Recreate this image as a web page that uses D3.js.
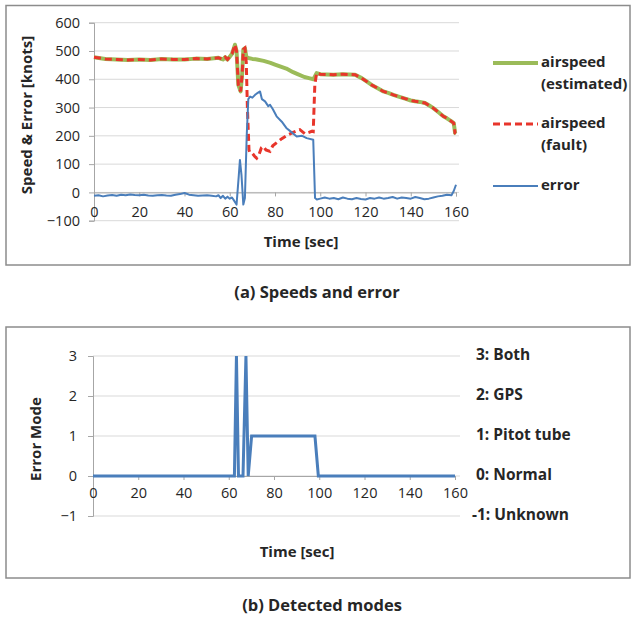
<!DOCTYPE html>
<html><head><meta charset="utf-8">
<script src="https://cdn.jsdelivr.net/npm/d3@7"></script>
<style>body{margin:0;background:#fff}svg{display:block}text{font-family:"Open Sans",sans-serif}</style>
</head><body><svg id="c" width="636" height="621"></svg>
<script>
// ---------- data ----------
const errT = [0,2,4,6,8,10,12,14,16,18,20,22,24,26,28,30,32,34,36,38,40,42,44,46,48,50,52,54,55,56,57,58,59,60,61,62,63,64,64.5,65.2,66,66.7,67.5,68.2,69,70,71.2,72,73.4,74.2,75.6,77,77.8,79,80.7,83,85,87,89.6,92,94,96.9,97.7,98.5,100,102,104,106,108,110,112,114,116,118,120,122,124,126,128,130,132,134,136,138,140,142,144,146,148,150,152,154,156,158,159,160];
const errV = [-12,-10,-14,-11,-9,-12,-8,-10,-7,-9,-10,-8,-11,-12,-10,-9,-11,-12,-8,-6,-2,-8,-10,-12,-11,-10,-12,-14,-10,-20,-12,-22,-15,-22,-18,-30,-43,60,115,60,-43,-20,200,330,339,335,345,350,357,330,322,305,310,295,269,250,228,215,198,200,192,186,-20,-25,-22,-18,-22,-20,-24,-18,-22,-24,-20,-23,-25,-20,-22,-18,-22,-20,-16,-22,-18,-20,-22,-16,-20,-24,-22,-18,-14,-12,-8,-10,5,27];

const faultT = [0,5,10,15,20,25,30,35,40,45,50,55,57,58,59,60,61,62.3,63,63.8,64.8,65.5,66,66.7,67.3,67.8,68.5,69,70,71,71.9,73,74,74.8,76,77.8,79,81.4,83,85.8,88,91,93.3,95,96.2,96.9,97.6,98.4,100,105.8,110,115.4,118.3,120,122.7,125,127.9,130,132.3,135,138.2,140,141.9,144,146.3,148,150,152,154.4,156,158,159,159.6,160];
const faultV = [478,472,470,468,470,468,472,470,470,473,472,476,470,478,470,480,490,522,500,380,357,420,505,510,460,300,150,140,138,128,121,135,158,163,150,145,165,180,190,204,212,222,207,212,216,215,380,422,418,416,418,416,404,395,380,370,357,352,345,338,330,325,322,320,316,308,298,285,269,262,251,245,210,208];

const estT = [0,5,10,15,20,25,30,35,40,45,50,55,57,58,59,60,61,62.3,63,63.8,64.8,65.5,66,66.7,67.3,68.2,70,72,75,78,80,85,88,90,93,95,97,98.4,100,105.8,110,115.4,118.3,120,122.7,125,127.9,130,132.3,135,138.2,140,141.9,144,146.3,148,150,152,154.4,156,158,159,159.6,160];
const estV = [478,472,470,468,470,468,472,470,470,473,472,476,470,478,470,480,490,522,500,380,357,420,505,510,480,475,472,470,465,458,452,438,425,418,408,404,400,422,418,416,418,416,404,395,380,370,357,352,345,338,330,325,322,320,316,308,298,285,269,262,251,245,210,207];

const modeT = [0,62.5,63.4,64.3,66.3,67.6,68.6,70.1,98.1,99.6,160];
const modeV = [0,0,3,0,0,3,0,1,1,0,0];

const xTicks = [0,20,40,60,80,100,120,140,160];
const speedTicks = [-100,0,100,200,300,400,500,600];
const modeTicks = [-1,0,1,2,3];
const modeNames = ["-1: Unknown","0: Normal","1: Pitot tube","2: GPS","3: Both"];
const legendNames = [["airspeed","(estimated)"],["airspeed","(fault)"],["error"]];

// ---------- colours ----------
const cGreen = "#9bbb59", cRed = "#e8352b", cBlue = "#4a7ebb", cGrid = "#d9d9d9", cAxis = "#a6a6a6", cText = "#262626";
const fTick = 14.5, fTitle = 15, fLeg = 15, fCap = 16.5, fMode = 15.5;

const svg = d3.select("#c");
svg.append("rect").attr("width",636).attr("height",621).attr("fill","#fff");

function frame(y0,y1){
  svg.append("rect").attr("x",6).attr("y",y0).attr("width",624).attr("height",y1-y0)
    .attr("fill","none").attr("stroke","#8c8c8c").attr("stroke-width",1.5);
}
frame(5.5,265);
frame(327,578);

function styleAxis(g){
  g.select(".domain").attr("stroke",cAxis);
  g.selectAll(".tick line").attr("stroke",cAxis);
  g.selectAll("text").attr("font-size",fTick).attr("fill",cText).attr("font-family","Open Sans");
}

// ---------- panel (a) ----------
const xA = d3.scaleLinear().domain([0,160]).range([94,456]);
const yA = d3.scaleLinear().domain([-100,600]).range([220.7,22.7]);
const gA = svg.append("g");
gA.selectAll("line.grid").data(speedTicks).join("line")
  .attr("x1",xA(0)).attr("x2",xA(160)+3).attr("y1",d=>yA(d)).attr("y2",d=>yA(d))
  .attr("stroke",cGrid).attr("stroke-width",1);
gA.append("g").attr("transform",`translate(${xA(0)},0)`)
  .call(d3.axisLeft(yA).tickValues(speedTicks).tickSize(5).tickPadding(9)).call(styleAxis);
gA.append("g").attr("transform",`translate(0,${yA(0)})`)
  .call(d3.axisBottom(xA).tickValues(xTicks).tickSize(4).tickPadding(10)).call(styleAxis);

const lineA = (T,V)=>d3.line().x((d,i)=>xA(T[i])).y(d=>yA(d))(V);
gA.append("path").attr("d",lineA(estT,estV)).attr("fill","none").attr("stroke",cGreen).attr("stroke-width",4).attr("stroke-linejoin","round");
gA.append("path").attr("d",lineA(faultT,faultV)).attr("fill","none").attr("stroke",cRed).attr("stroke-width",3).attr("stroke-dasharray","7,4");
gA.append("path").attr("d",lineA(errT,errV)).attr("fill","none").attr("stroke",cBlue).attr("stroke-width",2).attr("stroke-linejoin","round");

svg.append("text").attr("transform","translate(28,115) rotate(-90)").attr("text-anchor","middle")
  .attr("dominant-baseline","middle").attr("font-size",fTitle).attr("font-weight","bold").attr("fill",cText).text("Speed & Error [knots]");
svg.append("text").attr("x",301).attr("y",243).attr("text-anchor","middle").attr("dominant-baseline","middle")
  .attr("font-size",fTitle).attr("font-weight","bold").attr("fill",cText).text("Time [sec]");

// legend
const legY = [63,124,186];
const legStyle = [{c:cGreen,w:4,d:null},{c:cRed,w:3,d:"7,4"},{c:cBlue,w:2,d:null}];
legendNames.forEach((lines,i)=>{
  const s = legStyle[i];
  svg.append("line").attr("x1",493).attr("x2",538).attr("y1",legY[i]).attr("y2",legY[i])
    .attr("stroke",s.c).attr("stroke-width",s.w).attr("stroke-dasharray",s.d);
  lines.forEach((t,j)=>svg.append("text").attr("x",541).attr("y",legY[i]+j*22).attr("dominant-baseline","middle")
    .attr("font-size",fLeg).attr("font-weight","bold").attr("fill",cText).text(t));
});

svg.append("text").attr("x",317).attr("y",294).attr("text-anchor","middle").attr("dominant-baseline","middle")
  .attr("font-size",fCap).attr("font-weight","bold").attr("fill",cText).text("(a) Speeds and error");

// ---------- panel (b) ----------
const xB = d3.scaleLinear().domain([0,160]).range([93,455]);
const yB = d3.scaleLinear().domain([-1,3]).range([516,356]);
const gB = svg.append("g");
gB.selectAll("line.grid").data(modeTicks).join("line")
  .attr("x1",xB(0)).attr("x2",xB(160)+5).attr("y1",d=>yB(d)).attr("y2",d=>yB(d))
  .attr("stroke",cGrid).attr("stroke-width",1);
gB.append("g").attr("transform",`translate(${xB(0)},0)`)
  .call(d3.axisLeft(yB).tickValues(modeTicks).tickSize(5).tickPadding(11).tickFormat(d3.format("d"))).call(styleAxis);
gB.append("g").attr("transform",`translate(0,${yB(0)})`)
  .call(d3.axisBottom(xB).tickValues(xTicks).tickSize(4).tickPadding(8)).call(styleAxis);
gB.append("path").attr("d",d3.line().x((d,i)=>xB(modeT[i])).y(d=>yB(d))(modeV))
  .attr("fill","none").attr("stroke",cBlue).attr("stroke-width",3);

gB.selectAll("text.mode").data(modeTicks).join("text").attr("class","mode")
  .attr("x",d=>d<0?472:476).attr("y",d=>yB(d)).attr("dominant-baseline","middle")
  .attr("font-size",fMode).attr("font-weight","bold").attr("fill",cText).text((d,i)=>modeNames[i]);

svg.append("text").attr("transform","translate(37,439) rotate(-90)").attr("text-anchor","middle")
  .attr("dominant-baseline","middle").attr("font-size",fTitle).attr("font-weight","bold").attr("fill",cText).text("Error Mode");
svg.append("text").attr("x",297).attr("y",553).attr("text-anchor","middle").attr("dominant-baseline","middle")
  .attr("font-size",fTitle).attr("font-weight","bold").attr("fill",cText).text("Time [sec]");
svg.append("text").attr("x",322).attr("y",607).attr("text-anchor","middle").attr("dominant-baseline","middle")
  .attr("font-size",fCap).attr("font-weight","bold").attr("fill",cText).text("(b) Detected modes");
</script></body></html>
